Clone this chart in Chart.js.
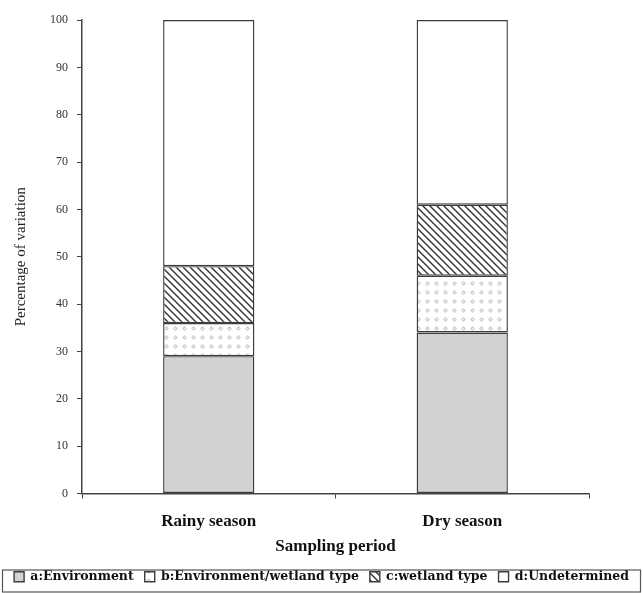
<!DOCTYPE html>
<html>
<head>
<meta charset="utf-8">
<script src="https://cdn.jsdelivr.net/npm/chart.js@4/dist/chart.umd.min.js"></script>
<style>
  html, body { margin: 0; padding: 0; background: #ffffff; }
  #wrap { width: 643px; height: 593px; position: relative; }
</style>
</head>
<body>
<div id="wrap"><canvas id="c" width="643" height="593"></canvas></div>
<script>
// ---- data ----
const categories = ["Rainy season", "Dry season"];
const seriesLabels = ["a:Environment", "b:Environment/wetland type", "c:wetland type", "d:Undetermined"];
const environment = [29, 34];
const envWetland = [7, 12];
const wetlandType = [12, 15];
const undetermined = [52, 39];
const yTicks = [0, 10, 20, 30, 40, 50, 60, 70, 80, 90, 100];
const yTitle = "Percentage of variation";
const xTitle = "Sampling period";

// ---- fill patterns ----
function makePattern(w, h, draw) {
  const cv = document.createElement('canvas');
  cv.width = w; cv.height = h;
  const g = cv.getContext('2d');
  draw(g, w, h);
  return g.createPattern(cv, 'repeat');
}
const fillA = makePattern(4, 4, (g, w, h) => {
  g.fillStyle = '#d3d2d0'; g.fillRect(0, 0, w, h);
});
const fillB = makePattern(9, 9, (g, w, h) => {
  g.fillStyle = '#ffffff'; g.fillRect(0, 0, w, h);
  g.fillStyle = '#cfcfcf';
  g.beginPath();
  g.moveTo(4.5, 2); g.lineTo(7, 4.5); g.lineTo(4.5, 7); g.lineTo(2, 4.5); g.closePath();
  g.fill();
  g.fillStyle = '#ffffff';
  g.fillRect(4, 4, 1, 1);
});
const fillC = makePattern(7, 7, (g, w, h) => {
  g.fillStyle = '#ffffff'; g.fillRect(0, 0, w, h);
  g.strokeStyle = '#333333'; g.lineWidth = 1.4;
  g.beginPath();
  for (let k = -1; k <= 1; k++) {
    g.moveTo(k * w - 1, -1); g.lineTo(k * w + w + 1, h + 1);
  }
  g.stroke();
});
const fillD = '#ffffff';

const fills = [fillA, fillB, fillC, fillD];
const values = [environment, envWetland, wetlandType, undetermined];

const datasets = seriesLabels.map((lab, i) => ({
  label: lab,
  data: values[i],
  backgroundColor: fills[i],
  borderColor: '#3c3c3c',
  borderWidth: 1.4,
  borderSkipped: false,
  barPercentage: 0.36,
  categoryPercentage: 1.0
}));

const serif = "'Liberation Serif', 'DejaVu Serif', serif";

const legendBorder = {
  id: 'legendBorder',
  afterDraw(chart) {
    const lg = chart.legend;
    if (!lg) return;
    const ctx = chart.ctx;
    ctx.save();
    ctx.strokeStyle = '#555';
    ctx.lineWidth = 1.2;
    const top = lg.top + 10.5;
    ctx.strokeRect(2.5, top, chart.width - 5, chart.height - top - 1);
    ctx.restore();
  }
};

new Chart(document.getElementById('c'), {
  type: 'bar',
  data: { labels: categories, datasets },
  plugins: [legendBorder],
  options: {
    responsive: false,
    animation: false,
    devicePixelRatio: 1,
    layout: { padding: { left: 2, right: 2, top: 20, bottom: 0 } },
    plugins: {
      tooltip: { enabled: false },
      legend: {
        position: 'bottom',
        align: 'center',
        labels: {
          boxWidth: 10,
          boxHeight: 10,
          padding: 11,
          color: '#111',
          font: { family: "'DejaVu Serif', serif", size: 12.5, weight: 'bold' }
        }
      }
    },
    scales: {
      x: {
        stacked: true,
        grid: { display: true, drawOnChartArea: false, drawTicks: true, tickLength: 5, color: '#444', offset: true },
        border: { display: true, color: '#444', width: 1.5 },
        ticks: { color: '#111', padding: 13, font: { family: serif, size: 17, weight: 'bold' } },
        title: { display: true, text: xTitle, color: '#111', padding: { top: 0, bottom: 3 }, font: { family: serif, size: 17, weight: 'bold' } },
        afterFit(scale) { scale.height = 66; }
      },
      y: {
        stacked: true,
        min: 0,
        max: 100,
        afterBuildTicks(scale) { scale.ticks = yTicks.map(v => ({ value: v })); },
        grid: { display: true, drawOnChartArea: false, drawTicks: true, tickLength: 5, color: '#444' },
        border: { display: true, color: '#444', width: 1.5 },
        ticks: { color: '#333', padding: 9, font: { family: serif, size: 12 } },
        title: { display: true, text: yTitle, color: '#222', padding: { top: 10, bottom: 4 }, font: { family: serif, size: 15 } },
        afterFit(scale) { scale.width = 80; }
      },
      yr: {
        position: 'right',
        display: true,
        min: 0,
        max: 100,
        grid: { display: false, drawTicks: false },
        border: { display: false },
        ticks: { display: false },
        afterFit(scale) { scale.width = 52; }
      }
    }
  }
});
</script>
</body>
</html>
